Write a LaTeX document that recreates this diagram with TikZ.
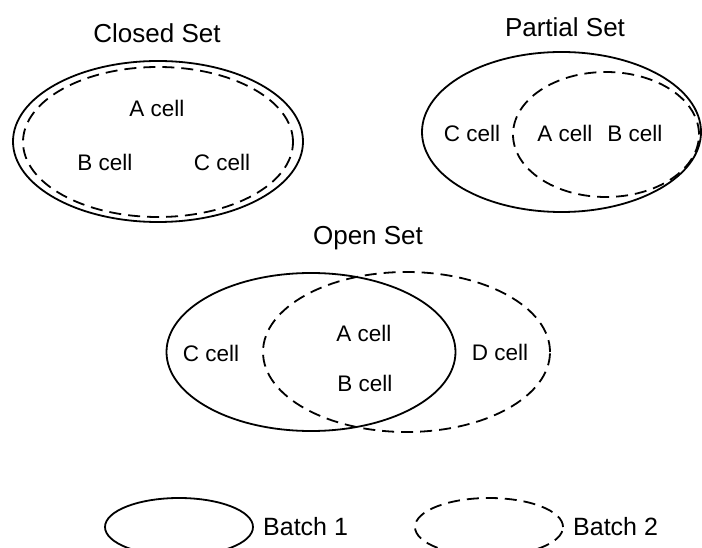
\documentclass[tikz,border=0pt]{standalone}
\usepackage{fontspec}
\setmainfont{Liberation Sans}
\begin{document}
\begin{tikzpicture}[x=1pt,y=-1pt,
  solidline/.style={line width=1.8pt},
  dashline/.style={line width=1.8pt, dash pattern=on 12pt off 7pt},
  celltext/.style={font=\fontsize{22.5}{24}\selectfont, inner sep=0pt},
  titletext/.style={font=\fontsize{26}{28}\selectfont, inner sep=0pt},
  legtext/.style={font=\fontsize{25}{27}\selectfont, inner sep=0pt, anchor=west}]
\useasboundingbox (0,0) rectangle (702,548);
\clip (0,0) rectangle (702,548);
% Closed Set
\node[titletext] (tclosed) at (157,33) {Closed Set};
\draw[solidline] (158,141.5) ellipse [x radius=145pt, y radius=80.5pt];
\draw[dashline] (158,142) ellipse [x radius=135pt, y radius=75pt];
\node[celltext] (ca) at (157,108) {A cell};
\node[celltext] (cb) at (105,162) {B cell};
\node[celltext] (cc) at (222,162) {C cell};
% Partial Set
\node[titletext] (tpartial) at (565,27) {Partial Set};
\draw[solidline] (561.5,132) ellipse [x radius=139.5pt, y radius=80pt];
\draw[dashline] (606,134.5) ellipse [x radius=93pt, y radius=62.5pt];
\node[celltext] (pc) at (472,133) {C cell};
\node[celltext] (pa) at (565,133) {A cell};
\node[celltext] (pb) at (635,133) {B cell};
% Open Set
\node[titletext] (topen) at (368,238) {Open Set};
\draw[solidline] (311,352) ellipse [x radius=144.5pt, y radius=79pt];
\draw[dashline] (406.5,352) ellipse [x radius=143.5pt, y radius=80pt];
\node[celltext] (oa) at (364,333) {A cell};
\node[celltext] (ob) at (365,383) {B cell};
\node[celltext] (oc) at (211,353) {C cell};
\node[celltext] (od) at (500,352) {D cell};
% Legend
\draw[solidline] (179,527) ellipse [x radius=74pt, y radius=29pt];
\node[legtext] (b1) at (263,527) {Batch 1};
\draw[dashline] (489,527) ellipse [x radius=74pt, y radius=29pt];
\node[legtext] (b2) at (573,527) {Batch 2};
\end{tikzpicture}
\end{document}
